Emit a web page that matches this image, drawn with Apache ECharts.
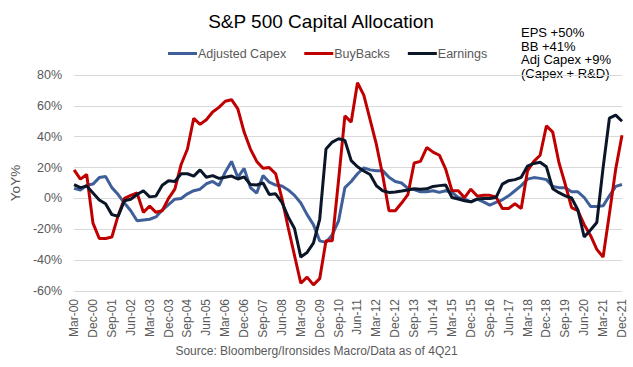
<!DOCTYPE html>
<html>
<head>
<meta charset="utf-8">
<script src="https://cdn.jsdelivr.net/npm/echarts@6/dist/echarts.min.js"></script>
<style>html,body{margin:0;padding:0;background:#fff}#c{width:633px;height:367px}</style>
</head>
<body>
<div id="c"></div>
<script>
// Quarterly categories Mar-00 .. Dec-21
const years = [];
for (let y = 0; y <= 21; y++) years.push(String(y).padStart(2, '0'));
const quarters = ['Mar', 'Jun', 'Sep', 'Dec'];
const categories = [];
years.forEach(y => quarters.forEach(q => categories.push(q + '-' + y)));

const adjustedCapex = [6.5,5.5,8.5,9.3,13.5,14.2,7,2.5,-3,-8,-14.5,-14,-13.5,-12,-7.5,-4,-0.5,0,3,5,6,9.5,11,8.3,17,24,13.7,19.5,7,3.5,14.8,10.5,8.7,8,5.5,2,-3,-10.5,-17,-27.5,-28.5,-23.5,-14.5,7,11,16,19.8,18.5,18,18,13.7,11,10,6.5,5.7,4.3,4.3,5,3.9,5,3.9,0.6,-0.4,-2.2,-0.5,-2.2,-4.3,-2.6,-0.9,1.7,5,8.3,12.5,13.5,13,12.2,7.8,7,7,4.3,4.3,0.6,-5.2,-5.2,-4.8,1.7,7.8,9];
const buyBacks = [18.5,12.5,15.5,-16,-26,-26,-25,-11,0,2,3.5,-9,-5,-9,-8,0,6,22,32,52,48,51,56,59,63,64,58,43,32,24,19.5,20,16,0,-19,-37,-55,-51,-56,-52,-27.5,-27.5,12,53.5,49.5,75,67,51,35,15,-8,-8,-3,2.5,23,24,33,30,28,19,5,5,0.5,6,1.5,2,2,1,-6.5,-6.5,-3.5,-6.5,18,24,28,47,43,23,9,-6,-8,-17,-24,-33,-38,-10,19,41];
const earnings = [9,7,8,3.5,-1,-3.5,-10.5,-11.5,-1.5,-0.5,2.5,5,1,1.5,8.5,11.5,11,16,16,14.5,18.5,13.7,14.8,13,13.7,14.5,12.6,14,9,8.7,10,2.5,3,-2.5,-12,-19.5,-38,-35,-29,-13.5,32,36.5,38.7,37.6,24.5,20.5,17.8,15.5,8.2,5,3.9,4.2,4.8,5.5,6.3,6,6.2,7.8,8.3,8.7,0.6,-0.4,-1.5,-2.2,-0.4,0,0,0.6,9.3,11.5,12.2,13.7,21,22.7,23.5,20.5,6.3,3.7,1.7,0.3,-7.5,-25,-20.5,-15.6,20,52,54,50];

const seriesNames = ['Adjusted Capex', 'BuyBacks', 'Earnings'];
const seriesColors = ['#3F5F9B', '#C00000', '#0B1628'];
const annotationLines = ['EPS +50%', 'BB +41%', 'Adj Capex +9%', '(Capex + R&D)'];
const titleText = 'S&P 500 Capital Allocation';
const sourceText = 'Source: Bloomberg/Ironsides Macro/Data as of 4Q21';

const FONT = '"Liberation Sans", Arial, sans-serif';
const chart = echarts.init(document.getElementById('c'), null, { renderer: 'svg' });
const dataSets = [adjustedCapex, buyBacks, earnings];

chart.setOption({
  animation: false,
  textStyle: { fontFamily: FONT },
  title: {
    text: titleText, left: 316, textAlign: 'center', top: 7,
    textStyle: { fontSize: 19, fontWeight: 'normal', color: '#000', fontFamily: FONT }
  },
  legend: {
    left: 163, top: 42, itemWidth: 29, itemHeight: 3, itemGap: 18,
    icon: 'rect',
    textStyle: { fontSize: 12.5, color: '#595959', fontFamily: FONT, padding: [0, 0, 0, -4] },
    data: seriesNames
  },
  grid: { left: 70, right: 11, top: 75, bottom: 76, containLabel: false },
  xAxis: {
    type: 'category', data: categories, boundaryGap: false,
    axisLine: { lineStyle: { color: '#D9D9D9' } },
    axisTick: { show: false },
    axisLabel: { interval: 2, rotate: 90, fontSize: 12, color: '#595959', margin: 8, fontFamily: FONT }
  },
  yAxis: {
    type: 'value', min: -60, max: 80, interval: 20,
    name: 'YoY%', nameLocation: 'middle', nameRotate: 90, nameGap: 41,
    nameTextStyle: { fontSize: 13.5, color: '#595959', fontFamily: FONT },
    axisLine: { show: false }, axisTick: { show: false },
    axisLabel: { formatter: '{value}%', fontSize: 12.5, color: '#595959', margin: 12, fontFamily: FONT },
    splitLine: { lineStyle: { color: '#D9D9D9', width: 1 } }
  },
  graphic: [
    {
      type: 'text', left: 521, top: 26,
      style: { text: annotationLines.join('\n'), font: '13px ' + FONT, fill: '#000', lineHeight: 13.5 }
    },
    {
      type: 'text', left: 'center', top: 345,
      style: { text: sourceText, font: '12px ' + FONT, fill: '#595959' }
    }
  ],
  series: seriesNames.map((n, k) => ({
    name: n, type: 'line', data: dataSets[k], showSymbol: false, symbol: 'none',
    lineStyle: { color: seriesColors[k], width: 3 }, itemStyle: { color: seriesColors[k] },
    z: 2 + k
  }))
});
</script>
</body>
</html>
